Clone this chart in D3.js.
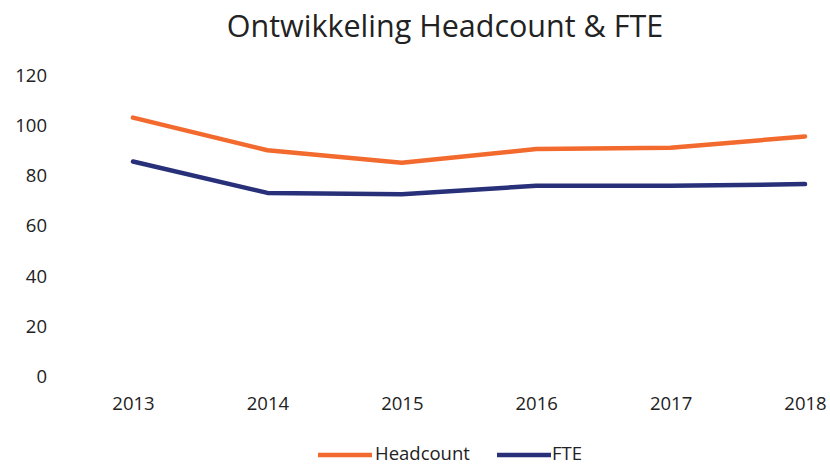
<!DOCTYPE html>
<html><head><meta charset="utf-8">
<script src="https://cdn.jsdelivr.net/npm/d3@7"></script>
<style>body{margin:0;background:#fff}svg{display:block}text{font-family:"Open Sans","Liberation Sans",sans-serif;fill:#222}</style>
</head><body>
<svg id="c" width="830" height="467"></svg>
<script>
const years = ["2013","2014","2015","2016","2017","2018"];
const headcount = [103, 90, 85, 90.5, 91, 95.5];
const fte = [85.5, 73, 72.5, 75.8, 75.8, 76.5];
const yTicks = [0,20,40,60,80,100,120];
const seriesNames = ["Headcount","FTE"];
const colors = ["#F26A2E","#28307A"];

const svg = d3.select("#c");
const x = d3.scalePoint().domain(years).range([133,805]);
const y = d3.scaleLinear().domain([0,120]).range([376,75]);

svg.append("text").attr("x",445).attr("y",37).attr("text-anchor","middle")
  .style("font-size","30.5px").text("Ontwikkeling Headcount & FTE");

const yAxis = svg.append("g").attr("transform","translate(47,0)")
  .call(d3.axisLeft(y).tickValues(yTicks).tickSize(0).tickPadding(0));
yAxis.select(".domain").remove();
yAxis.selectAll("text").style("font-size","18.5px").attr("fill","#222").attr("dy","0.35em");

const xAxis = svg.append("g").attr("transform","translate(0,397)")
  .call(d3.axisBottom(x).tickSize(0).tickPadding(0));
xAxis.select(".domain").remove();
xAxis.selectAll("text").style("font-size","18.5px").attr("fill","#222").attr("dy","0.71em");

const line = d3.line().x((d,i)=>x(years[i])).y(d=>y(d));
[headcount, fte].forEach((s,k)=>{
  svg.append("path").datum(s).attr("d",line).attr("fill","none")
    .attr("stroke",colors[k]).attr("stroke-width",4.5).attr("stroke-linecap","round").attr("stroke-linejoin","round");
});

const leg = [{x:318,tx:375},{x:497,tx:552}];
seriesNames.forEach((n,k)=>{
  svg.append("line").attr("x1",leg[k].x).attr("x2",leg[k].x+54).attr("y1",455).attr("y2",455)
    .attr("stroke",colors[k]).attr("stroke-width",4.5);
  svg.append("text").attr("x",leg[k].tx).attr("y",460).style("font-size","18.5px").text(n);
});
</script>
</body></html>
